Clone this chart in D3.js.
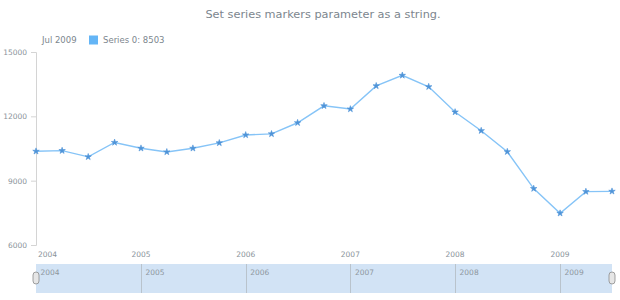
<!DOCTYPE html>
<html>
<head>
<meta charset="utf-8">
<script src="https://cdn.jsdelivr.net/npm/d3@7/dist/d3.min.js"></script>
<style>
  body { margin: 0; background: #fff; }
  svg text { font-family: "DejaVu Sans", Verdana, sans-serif; }
</style>
</head>
<body>
<svg id="chart" width="620" height="300"></svg>
<script>
// quarterly data, Jan 2004 .. Jul 2009
var dates = ["2004-01-01", "2004-04-01", "2004-07-01", "2004-10-01",
             "2005-01-01", "2005-04-01", "2005-07-01", "2005-10-01",
             "2006-01-01", "2006-04-01", "2006-07-01", "2006-10-01",
             "2007-01-01", "2007-04-01", "2007-07-01", "2007-10-01",
             "2008-01-01", "2008-04-01", "2008-07-01", "2008-10-01",
             "2009-01-01", "2009-04-01", "2009-07-01"];
var values = [10370, 10400, 10110, 10780, 10510, 10340, 10510, 10760,
              11130, 11180, 11700, 12490, 12340, 13420, 13910, 13380,
              12200, 11330, 10350, 8630, 7480, 8490, 8503];
var yTicks = [6000, 9000, 12000, 15000];
var yearTicks = ["2004", "2005", "2006", "2007", "2008", "2009"];
var seriesName = "Series 0";
var titleText = "Set series markers parameter as a string.";

var plotLeft = 36, plotRight = 612, plotTop = 52, plotBottom = 245;
var textColor = "#7c868e";
var lineColor = "#64b5f6";
var markerColor = "#4f94d8";

var parse = d3.timeParse("%Y-%m-%d");
var parseYear = d3.timeParse("%Y");
var points = dates.map(function(d, i) { return {date: parse(d), value: values[i]}; });

var svg = d3.select("#chart");

var x = d3.scaleTime()
    .domain(d3.extent(points, d => d.date))
    .range([plotLeft, plotRight]);
var y = d3.scaleLinear()
    .domain([6000, 15000])
    .range([plotBottom, plotTop]);

// title
svg.append("text")
    .attr("x", 323)
    .attr("y", 14)
    .attr("text-anchor", "middle")
    .attr("dominant-baseline", "central")
    .attr("fill", textColor)
    .attr("font-size", "11.3px")
    .text(titleText);

// legend (last point)
var last = points[points.length - 1];
svg.append("text")
    .attr("x", 42)
    .attr("y", 40)
    .attr("dominant-baseline", "central")
    .attr("fill", textColor)
    .attr("font-size", "8.5px")
    .text(d3.timeFormat("%b %Y")(last.date));
svg.append("rect")
    .attr("x", 89).attr("y", 35.5)
    .attr("width", 9).attr("height", 9)
    .attr("fill", lineColor);
svg.append("text")
    .attr("x", 103)
    .attr("y", 40)
    .attr("dominant-baseline", "central")
    .attr("fill", textColor)
    .attr("font-size", "8.5px")
    .text(seriesName + ": " + last.value);

// y axis
var yAxis = svg.append("g")
    .attr("transform", "translate(" + plotLeft + ",0)")
    .call(d3.axisLeft(y).tickValues(yTicks).tickSize(5).tickPadding(4).tickFormat(d3.format("d")));
yAxis.select(".domain").attr("stroke", "#d4d4d4");
yAxis.selectAll(".tick line").attr("stroke", "#d4d4d4");
yAxis.selectAll(".tick text")
    .attr("fill", "#8a939a")
    .attr("font-size", "7.5px")
    .attr("font-family", "DejaVu Sans, sans-serif");

// x axis labels (no axis line)
var xLabels = svg.append("g");
xLabels.selectAll("text")
    .data(yearTicks)
    .enter().append("text")
        .attr("x", d => x(parseYear(d)))
        .attr("y", 254.5)
        .attr("text-anchor", "middle")
        .attr("dominant-baseline", "central")
        .attr("fill", "#8a939a")
        .attr("font-size", "7.5px")
        .text(d => d)
        .each(function() {
            var w = this.getComputedTextLength();
            var cx = +d3.select(this).attr("x");
            if (cx - w / 2 < plotLeft + 2) d3.select(this).attr("x", plotLeft + 2 + w / 2);
        });

// series line
var line = d3.line()
    .x(d => x(d.date))
    .y(d => y(d.value));
svg.append("path")
    .datum(points)
    .attr("fill", "none")
    .attr("stroke", "#86c4f7")
    .attr("stroke-width", 1.4)
    .attr("d", line);

// star markers
svg.append("g")
    .selectAll("path")
    .data(points)
    .enter().append("path")
        .attr("transform", d => "translate(" + x(d.date) + "," + y(d.value) + ")")
        .attr("d", d3.symbol().type(d3.symbolStar).size(13))
        .attr("fill", markerColor)
        .attr("stroke", markerColor)
        .attr("stroke-width", 0.6);

// scroller
var sTop = 264, sBottom = 293;
var scroller = svg.append("g");
scroller.append("rect")
    .attr("x", plotLeft).attr("y", sTop)
    .attr("width", plotRight - plotLeft).attr("height", sBottom - sTop)
    .attr("fill", "#d2e3f5");
scroller.selectAll("line")
    .data(yearTicks.slice(1))
    .enter().append("line")
        .attr("x1", d => Math.round(x(parseYear(d))) + 0.5)
        .attr("x2", d => Math.round(x(parseYear(d))) + 0.5)
        .attr("y1", sTop).attr("y2", sBottom)
        .attr("stroke", "#b9c3cc")
        .attr("stroke-width", 1);
scroller.selectAll("text")
    .data(yearTicks)
    .enter().append("text")
        .attr("x", d => Math.max(plotLeft, x(parseYear(d))) + 4.5)
        .attr("y", 272.5)
        .attr("dominant-baseline", "central")
        .attr("fill", "#8e979e")
        .attr("font-size", "7.5px")
        .text(d => d);
scroller.selectAll("rect.thumb")
    .data([plotLeft, plotRight])
    .enter().append("rect")
        .attr("class", "thumb")
        .attr("x", d => d - 3).attr("y", 272)
        .attr("width", 6).attr("height", 12)
        .attr("rx", 3)
        .attr("fill", "#e6e6e6")
        .attr("stroke", "#8a8a8a")
        .attr("stroke-width", 0.8);
</script>
</body>
</html>
